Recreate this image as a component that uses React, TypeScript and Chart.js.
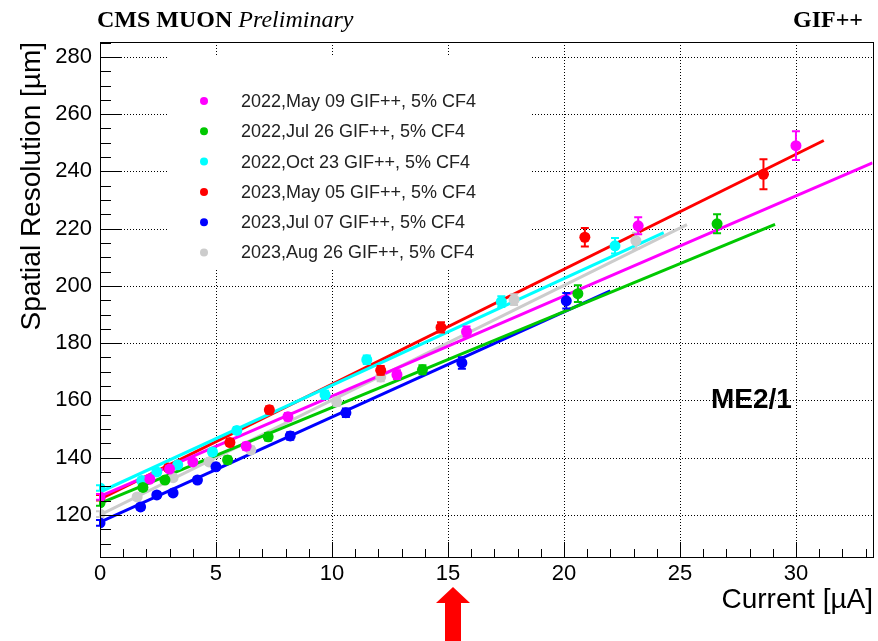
import React, { useEffect, useRef } from "react";
import { Chart, registerables } from "chart.js";
Chart.register(...registerables);

// ---- data ----
const seriesLabels = [
  "2022,May 09 GIF++, 5% CF4",
  "2022,Jul 26 GIF++, 5% CF4",
  "2022,Oct 23 GIF++, 5% CF4",
  "2023,May 05 GIF++, 5% CF4",
  "2023,Jul 07 GIF++, 5% CF4",
  "2023,Aug 26 GIF++, 5% CF4",
];
const seriesColors = ["#ff00ff", "#00c800", "#00ffff", "#ff0000", "#0000ff", "#cccccc"];

const may22X = [0, 2.15, 3.0, 4.0, 6.3, 8.1, 12.8, 15.8, 23.2, 30.0];
const may22Y = [126.3, 132.5, 136.0, 138.5, 144.0, 154.3, 169.0, 184.0, 221.0, 249.0];
const may22E = [1, 1, 1, 1, 1.2, 1.3, 1.5, 1.8, 3.0, 5.0];

const jul22X = [0, 1.85, 2.8, 5.5, 7.25, 13.9, 20.6, 26.6];
const jul22Y = [124.2, 129.6, 132.2, 139.2, 147.3, 170.7, 197.3, 221.7];
const jul22E = [1, 1, 1, 1.2, 1.3, 1.6, 2.9, 3.3];

const oct22X = [0, 1.8, 2.45, 3.35, 4.85, 5.9, 9.7, 11.5, 17.3, 22.2];
const oct22Y = [129.4, 132.0, 135.0, 137.5, 142.0, 149.5, 162.0, 174.2, 194.5, 214.0];
const oct22E = [1, 1, 1, 1, 1.1, 1.2, 1.4, 1.5, 1.9, 2.7];

const may23X = [0, 2.95, 5.6, 7.3, 12.1, 14.7, 20.9, 28.6];
const may23Y = [126.0, 136.4, 145.3, 156.7, 170.5, 185.5, 217.0, 239.0];
const may23E = [1, 1, 1.2, 1.3, 1.5, 1.8, 3.2, 5.2];

const jul23X = [0, 1.75, 2.45, 3.15, 4.2, 5.0, 8.2, 10.6, 15.6, 20.1];
const jul23Y = [117.2, 122.8, 127.0, 127.7, 132.2, 136.8, 147.6, 155.7, 173.1, 194.8];
const jul23E = [1, 1, 1, 1, 1, 1.1, 1.3, 1.5, 2.0, 2.7];

const aug23X = [0, 1.6, 3.15, 4.7, 6.5, 10.2, 12.1, 17.85, 23.1];
const aug23Y = [120.3, 126.3, 133.0, 138.5, 142.7, 159.5, 168.2, 195.2, 215.8];
const aug23E = [1, 1, 1, 1, 1.2, 1.4, 1.5, 1.9, 2.8];

// fit lines (start, end)
const fitMay22X = [0, 33.3];
const fitMay22Y = [126.5, 243.0];
const fitJul22X = [0, 29.1];
const fitJul22Y = [124.0, 221.5];
const fitOct22X = [0, 24.3];
const fitOct22Y = [128.0, 218.6];
const fitMay23X = [0, 31.2];
const fitMay23Y = [125.5, 250.8];
const fitJul23X = [0, 22.0];
const fitJul23Y = [117.5, 198.3];
const fitAug23X = [0, 25.3];
const fitAug23Y = [120.0, 221.4];

// tick labels
const xTickValues = [0, 5, 10, 15, 20, 25, 30];
const yTickValues = [120, 140, 160, 180, 200, 220, 240, 260, 280];
const xMinorStep = 1;
const yMinorStep = 5;

const seriesX = [may22X, jul22X, oct22X, may23X, jul23X, aug23X];
const seriesY = [may22Y, jul22Y, oct22Y, may23Y, jul23Y, aug23Y];
const seriesE = [may22E, jul22E, oct22E, may23E, jul23E, aug23E];
const fitX = [fitMay22X, fitJul22X, fitOct22X, fitMay23X, fitJul23X, fitAug23X];
const fitY = [fitMay22Y, fitJul22Y, fitOct22Y, fitMay23Y, fitJul23Y, fitAug23Y];

const SANS = '"Liberation Sans", Arial, Helvetica, sans-serif';
const SERIF = '"Liberation Serif", "Times New Roman", serif';

const rootPlugin = {
  id: "rootStyle",
  beforeDatasetsDraw(chart: any) {
    const { ctx, chartArea: a, scales } = chart;
    const x = scales.x, y = scales.y;
    ctx.save();
    ctx.strokeStyle = "#000";
    ctx.lineWidth = 1;
    ctx.setLineDash([1, 2]);
    x.ticks.forEach((t: any) => {
      if (t.value <= x.min) return;
      const px = Math.round(x.getPixelForValue(t.value)) + 0.5;
      ctx.beginPath(); ctx.moveTo(px, a.top); ctx.lineTo(px, a.bottom); ctx.stroke();
    });
    y.ticks.forEach((t: any) => {
      const py = Math.round(y.getPixelForValue(t.value)) + 0.5;
      ctx.beginPath(); ctx.moveTo(a.left, py); ctx.lineTo(a.right, py); ctx.stroke();
    });
    ctx.restore();
  },
  beforeDatasetDraw(chart: any, args: any) {
    const ds = chart.data.datasets[args.index];
    if (!ds.errs) return;
    const { ctx, scales } = chart;
    const x = scales.x, y = scales.y;
    ctx.save();
    ctx.strokeStyle = ds.backgroundColor;
    ctx.lineWidth = 2;
    ds.data.forEach((p: any, i: number) => {
      const e = ds.errs[i];
      const px = x.getPixelForValue(p.x);
      const p1 = y.getPixelForValue(p.y + e);
      const p2 = y.getPixelForValue(p.y - e);
      ctx.beginPath();
      ctx.moveTo(px, p1); ctx.lineTo(px, p2);
      ctx.moveTo(px - 4, p1); ctx.lineTo(px + 4, p1);
      ctx.moveTo(px - 4, p2); ctx.lineTo(px + 4, p2);
      ctx.stroke();
    });
    ctx.restore();
  },
  afterDraw(chart: any) {
    const { ctx, chartArea: a, scales } = chart;
    const x = scales.x, y = scales.y;
    ctx.save();
    // frame
    ctx.strokeStyle = "#000";
    ctx.lineWidth = 1;
    ctx.strokeRect(Math.round(a.left) + 0.5, Math.round(a.top) + 0.5, Math.round(a.right - a.left), Math.round(a.bottom - a.top));
    // x ticks
    ctx.beginPath();
    for (let v = Math.ceil(x.min / xMinorStep) * xMinorStep; v <= x.max; v += xMinorStep) {
      const px = Math.round(x.getPixelForValue(v)) + 0.5;
      const len = xTickValues.includes(v) ? 15 : 8;
      ctx.moveTo(px, a.bottom); ctx.lineTo(px, a.bottom - len);
    }
    // y ticks
    for (let v = Math.ceil(y.min / yMinorStep) * yMinorStep; v <= y.max; v += yMinorStep) {
      const py = Math.round(y.getPixelForValue(v)) + 0.5;
      const len = yTickValues.includes(v) ? 22 : 11;
      ctx.moveTo(a.left, py); ctx.lineTo(a.left + len, py);
    }
    ctx.stroke();

    // legend
    ctx.fillStyle = "#fff";
    ctx.fillRect(168, 57, 362, 211);
    ctx.font = `18px ${SANS}`;
    ctx.textBaseline = "middle";
    ctx.textAlign = "left";
    seriesLabels.forEach((lab, i) => {
      const yy = 101 + i * 30.3;
      ctx.fillStyle = seriesColors[i];
      ctx.beginPath(); ctx.arc(204, yy, 4, 0, Math.PI * 2); ctx.fill();
      ctx.fillStyle = "#222";
      ctx.fillText(lab, 241, yy + 1);
    });

    // ME2/1
    ctx.fillStyle = "#000";
    ctx.textBaseline = "alphabetic";
    ctx.font = `bold 28px ${SANS}`;
    ctx.fillText("ME2/1", 711, 408);

    // axis titles
    ctx.font = `28px ${SANS}`;
    ctx.textAlign = "right";
    ctx.fillText("Current [\u00b5A]", 873, 608);
    ctx.save();
    ctx.translate(40, 42);
    ctx.rotate(-Math.PI / 2);
    ctx.textAlign = "right";
    ctx.fillText("Spatial Resolution [\u00b5m]", 0, 0);
    ctx.restore();

    // header
    ctx.textAlign = "left";
    ctx.font = `bold 24px ${SERIF}`;
    ctx.fillText("CMS MUON", 97, 27);
    const w = ctx.measureText("CMS MUON ").width;
    ctx.font = `italic 24px ${SERIF}`;
    ctx.fillText("Preliminary", 97 + w, 27);
    ctx.font = `bold 24px ${SERIF}`;
    ctx.textAlign = "right";
    ctx.fillText("GIF++", 863, 27);

    // red arrow
    ctx.fillStyle = "#ff0000";
    ctx.beginPath();
    ctx.moveTo(453, 587);
    ctx.lineTo(470, 603);
    ctx.lineTo(461, 603);
    ctx.lineTo(461, 641);
    ctx.lineTo(445, 641);
    ctx.lineTo(445, 603);
    ctx.lineTo(436, 603);
    ctx.closePath();
    ctx.fill();
    ctx.restore();
  },
};

export default function App() {
  const ref = useRef<HTMLCanvasElement>(null);
  useEffect(() => {
    if (!ref.current) return;
    const datasets: any[] = [];
    seriesLabels.forEach((lab, i) => {
      datasets.push({
        label: lab + " fit",
        data: fitX[i].map((v, k) => ({ x: v, y: fitY[i][k] })),
        showLine: true,
        borderColor: seriesColors[i],
        borderWidth: 3,
        pointRadius: 0,
        order: 2,
      });
    });
    seriesLabels.forEach((lab, i) => {
      datasets.push({
        label: lab,
        data: seriesX[i].map((v, k) => ({ x: v, y: seriesY[i][k] })),
        errs: seriesE[i],
        showLine: false,
        backgroundColor: seriesColors[i],
        borderColor: seriesColors[i],
        borderWidth: 0,
        pointRadius: 5.5,
        pointStyle: "circle",
        order: 1,
      });
    });
    const chart = new Chart(ref.current, {
      type: "scatter",
      data: { datasets },
      plugins: [rootPlugin],
      options: {
        responsive: false,
        animation: false,
        layout: { padding: { left: 0, right: 4, top: 42, bottom: 0 } },
        plugins: { legend: { display: false }, tooltip: { enabled: false } },
        scales: {
          x: {
            type: "linear",
            min: 0,
            max: 33.3,
            grid: { display: false, drawTicks: false, tickLength: 0 },
            border: { display: false },
            afterBuildTicks: (s: any) => { s.ticks = xTickValues.map((v) => ({ value: v })); },
            ticks: {
              color: "#000",
              padding: 4,
              maxRotation: 0,
              autoSkip: false,
              font: { family: SANS, size: 22 },
              callback: (v: any) => String(v),
            },
            afterFit: (s: any) => { s.height = 84; },
          },
          y: {
            type: "linear",
            min: 105.3,
            max: 285.2,
            grid: { display: false, drawTicks: false, tickLength: 0 },
            border: { display: false },
            afterBuildTicks: (s: any) => { s.ticks = yTickValues.map((v) => ({ value: v })); },
            ticks: {
              color: "#000",
              padding: 8,
              autoSkip: false,
              font: { family: SANS, size: 22 },
              callback: (v: any) => String(v),
            },
            afterFit: (s: any) => { s.width = 100; },
          },
        },
      } as any,
    });
    return () => chart.destroy();
  }, []);
  return (
    <div style={{ position: "fixed", left: 0, top: 0, width: 878, height: 641, background: "#fff" }}>
      <canvas ref={ref} width={878} height={641} style={{ width: 878, height: 641 }} />
    </div>
  );
}
